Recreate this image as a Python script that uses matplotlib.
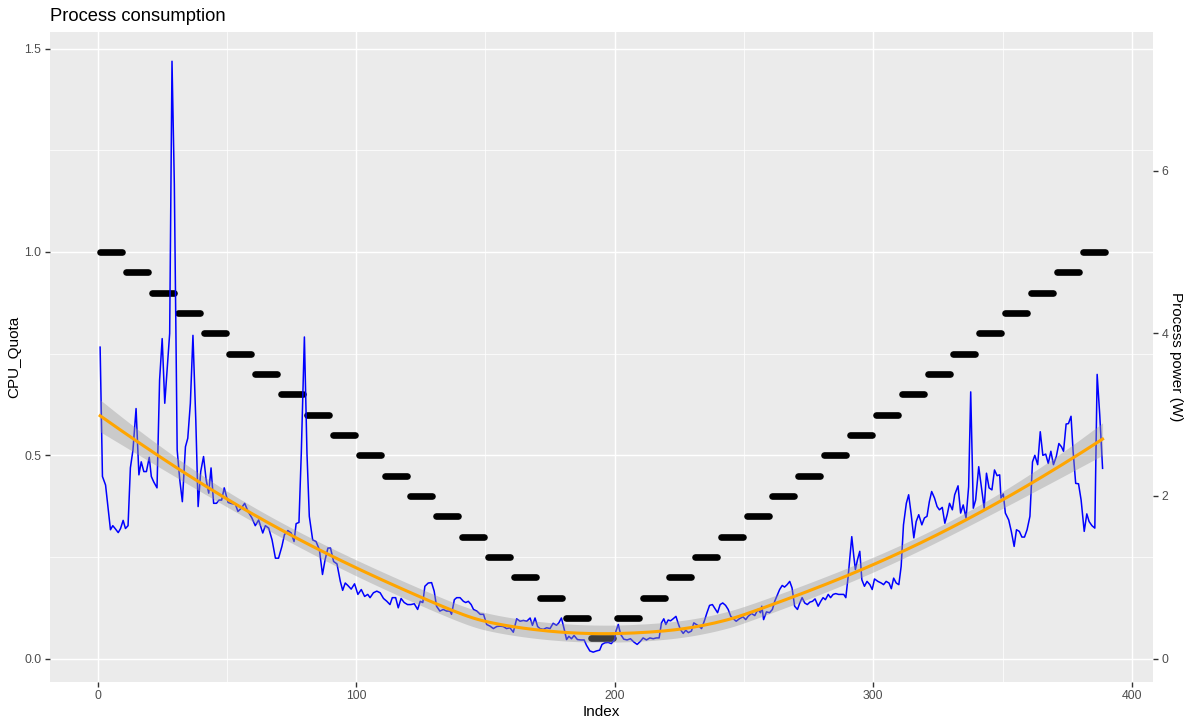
import numpy as np
import matplotlib
matplotlib.use("Agg")
import matplotlib.pyplot as plt
from matplotlib.ticker import MultipleLocator, FormatStrFormatter

plt.rcParams['font.family'] = ['Liberation Sans', 'DejaVu Sans']

# CPU quota steps, each level held for 10 samples
quota_levels = [1.0, 0.95, 0.9, 0.85, 0.8, 0.75, 0.7, 0.65, 0.6, 0.55,
                0.5, 0.45, 0.4, 0.35, 0.3, 0.25, 0.2, 0.15, 0.1, 0.05,
                0.1, 0.15, 0.2, 0.25, 0.3, 0.35, 0.4, 0.45, 0.5, 0.55,
                0.6, 0.65, 0.7, 0.75, 0.8, 0.85, 0.9, 0.95, 1.0]
step_len = 10

# process power, shown on the CPU_Quota scale (W / 5)
power_idx = [
    1, 1.9, 3.1, 4, 5, 5.9, 6.8, 8, 8.9, 9.9, 10.8, 11.8, 12.7, 13.7, 14.9, 16, 16.9, 17.9, 18.9, 20,
    20.8, 21.7, 23, 24, 25, 26, 26.9, 27.9, 28.8, 29.7, 30.8, 31.8, 32.8, 34, 34.9, 35.9, 36.9, 38,
    38.9, 39.9, 41, 42, 43, 43.9, 44.9, 46, 47, 48, 49,
    50.5, 52, 53.3, 54.3, 55.6, 56.9, 58.2, 59.7, 61, 62.3, 63.9, 64.9, 66.2, 67.5, 68.8, 70, 71.3,
    72.3, 73.6, 74.9, 76, 76.8, 77.9, 78.8, 80, 81, 81.9, 83.2, 84.5, 85.8, 87, 88, 89.1, 90.1, 91.3,
    92.6, 93.9, 94.8, 95.8, 96.8, 98.1, 99.4,
    100.7, 102, 103.3, 104.5, 105.4, 106.7, 108, 109.3, 110.6, 111.9, 113.1, 114, 115.3, 116.3, 117.4,
    118.6, 119.9, 121.2, 122.5, 123.8, 124.8, 125.8, 126.6, 127.9, 129.2, 130.2, 131.1, 132.4, 133.7,
    135, 136.3, 136.9, 138, 138.9, 140.2, 141.5, 142.4, 143.4, 144.5, 145.4, 146.7, 148, 149.3,
    150.5, 151.8, 153.1, 154.4, 155.7, 156.9, 158.2, 159.5, 160.8, 162.1, 163.4, 164.7, 166, 167.3,
    168.2, 169.2, 170.2, 171.1, 172.4, 173.7, 175, 176.2, 177.5, 178.4, 179.4, 180.5, 181.4, 182.3,
    183.3, 184.3, 185.6, 186.9, 188.2, 189.1, 190.4, 191.7, 193, 194.2, 195.1, 196.2, 197.5, 198.7, 200,
    200.5, 201.4, 202.3, 203.5, 204.8, 206.1, 207.4, 208.7, 210, 211, 212.3, 213.6, 214.9, 216.1,
    217.2, 218.1, 219, 219.8, 220.7, 221.6, 222.6, 223.7, 224.5, 225.4, 226.5, 227.5, 228.5, 229.7,
    230.6, 231.6, 232.6, 233.6, 234.7, 235.7, 236.7, 237.8, 238.8, 239.8, 240.8, 241.8, 242.9, 243.9,
    244.9, 245.9, 247, 248.2,
    249.6, 250.7, 251.6, 252.9, 254.2, 255.4, 256.4, 256.9, 257.6, 258.7, 259.9, 261, 261.9, 262.8,
    263.8, 264.8, 265.7, 266.7, 267.7, 268.6, 269.6, 270.7, 271.6, 272.5, 273.5, 274.5, 275.5, 276.5,
    277.5, 278.7, 279.7, 280.6, 281.5, 282.6, 283.5, 284.5, 285.5, 286.6, 287.6, 288.6, 289.4, 290.3,
    291, 291.7, 292.5, 293.1, 293.9, 294.8, 295.6, 296.6, 297.6, 298.7,
    299.6, 300.5, 301.8, 303.1, 304, 305, 306.1, 307, 307.9, 308.9, 309.9, 310.8, 311.7, 312.8, 313.7,
    314.7, 315.7, 316.6, 317.6, 318.8, 319.8, 320.8, 321.7, 322.6, 323.7, 324.7, 325.6, 326.7, 327.7,
    328.6, 329.5, 330.6, 331.5, 332.8, 333.8, 334.8, 335.9, 336.9, 337.7, 338.7, 339.6, 340.8, 341.8,
    342.9, 343.8, 344.8, 345.9, 346.9, 347.9, 348.9,
    349.4, 350.3, 351.1, 352.4, 353.4, 354.5, 355.4, 356.5, 357.5, 358.5, 359.5, 360.6, 361.6, 362.5,
    363.6, 364.6, 365.6, 366.7, 367.7, 368.7, 369.7, 370.8, 371.8, 372.8, 373.6, 374.6, 375.5, 376.5,
    377.3, 378.3, 379.4, 380.4, 381.6, 382.6, 383.5, 384.6, 385.7, 386.6, 387.6, 388.7]
power_scaled = [
    0.766, 0.448, 0.427, 0.374, 0.317, 0.327, 0.32, 0.31, 0.32, 0.34, 0.32, 0.327, 0.469, 0.513, 0.615,
    0.452, 0.484, 0.46, 0.46, 0.495, 0.448, 0.435, 0.42, 0.685, 0.787, 0.628, 0.709, 0.8, 1.469, 1.167,
    0.513, 0.44, 0.386, 0.521, 0.542, 0.628, 0.795, 0.587, 0.374, 0.46, 0.497, 0.44, 0.407, 0.469,
    0.382, 0.382, 0.39, 0.39, 0.42,
    0.384, 0.381, 0.38, 0.362, 0.37, 0.382, 0.362, 0.346, 0.327, 0.341, 0.309, 0.327, 0.321, 0.292,
    0.247, 0.247, 0.276, 0.305, 0.315, 0.309, 0.288, 0.332, 0.335, 0.505, 0.791, 0.505, 0.35, 0.292,
    0.288, 0.268, 0.207, 0.243, 0.272, 0.272, 0.239, 0.233, 0.19, 0.168, 0.186, 0.18, 0.171, 0.184,
    0.158, 0.17, 0.153, 0.158, 0.15, 0.162, 0.166, 0.162, 0.148, 0.141, 0.133, 0.15, 0.15, 0.125,
    0.148, 0.138, 0.133, 0.133, 0.135, 0.121, 0.141, 0.138, 0.178, 0.186, 0.187, 0.166, 0.129, 0.117,
    0.121, 0.117, 0.117, 0.109, 0.145, 0.15, 0.15, 0.141, 0.138, 0.141, 0.133, 0.121, 0.117, 0.109,
    0.109,
    0.084, 0.08, 0.074, 0.079, 0.08, 0.079, 0.074, 0.076, 0.065, 0.098, 0.092, 0.094, 0.092, 0.1,
    0.082, 0.1, 0.079, 0.074, 0.072, 0.076, 0.074, 0.087, 0.082, 0.088, 0.1, 0.072, 0.047, 0.055,
    0.049, 0.057, 0.047, 0.046, 0.046, 0.033, 0.019, 0.016, 0.019, 0.021, 0.035, 0.039, 0.04, 0.037,
    0.047,
    0.068, 0.084, 0.06, 0.048, 0.046, 0.049, 0.041, 0.035, 0.043, 0.051, 0.046, 0.051, 0.049, 0.051,
    0.051, 0.088, 0.098, 0.084, 0.095, 0.093, 0.098, 0.104, 0.088, 0.072, 0.062, 0.07, 0.064, 0.068,
    0.088, 0.084, 0.08, 0.074, 0.093, 0.113, 0.131, 0.133, 0.123, 0.113, 0.133, 0.137, 0.131, 0.121,
    0.104, 0.098, 0.092, 0.098,
    0.103, 0.096, 0.104, 0.111, 0.106, 0.121, 0.113, 0.129, 0.096, 0.115, 0.113, 0.121, 0.141, 0.155,
    0.17, 0.18, 0.176, 0.182, 0.19, 0.174, 0.129, 0.121, 0.137, 0.15, 0.137, 0.133, 0.139, 0.141,
    0.147, 0.129, 0.141, 0.15, 0.145, 0.158, 0.15, 0.158, 0.16, 0.158, 0.158, 0.158, 0.15, 0.202,
    0.251, 0.3, 0.251, 0.219, 0.243, 0.264, 0.194, 0.178, 0.19, 0.182,
    0.17, 0.196, 0.19, 0.186, 0.182, 0.19, 0.186, 0.172, 0.198, 0.186, 0.182, 0.227, 0.329, 0.382,
    0.403, 0.354, 0.297, 0.337, 0.354, 0.329, 0.346, 0.35, 0.386, 0.411, 0.395, 0.374, 0.366, 0.372,
    0.333, 0.354, 0.382, 0.366, 0.403, 0.425, 0.358, 0.378, 0.346, 0.423, 0.656, 0.37, 0.39, 0.472,
    0.423, 0.37, 0.456, 0.42, 0.415, 0.464, 0.45, 0.452,
    0.395, 0.405, 0.358, 0.341, 0.313, 0.276, 0.317, 0.313, 0.299, 0.299, 0.317, 0.35, 0.484, 0.5,
    0.477, 0.558, 0.5, 0.503, 0.48, 0.51, 0.477, 0.497, 0.529, 0.521, 0.51, 0.577, 0.578, 0.596,
    0.51, 0.431, 0.43, 0.39, 0.313, 0.356, 0.337, 0.327, 0.321, 0.699, 0.6, 0.468]
power_factor = 0.2  # W -> quota scale used for the secondary axis
power_ticks = [0, 2, 4, 6]


def loess_weights(x, x0, span=0.75):
    # local quadratic fit weights (tricube), returns the row of the smoother matrix
    n = len(x)
    q = int(np.floor(n * span))
    d = np.abs(x - x0)
    h = np.sort(d)[q - 1]
    w = np.clip(1 - (d / h) ** 3, 0, None) ** 3
    X = np.vstack([np.ones_like(x), x - x0, (x - x0) ** 2]).T
    XtW = X.T * w
    return np.linalg.solve(XtW @ X, XtW)[0]


x = np.array(power_idx)
y = np.array(power_scaled)

S = np.array([loess_weights(x, xi) for xi in x])
res = y - S @ y
dof = len(x) - 2 * np.trace(S) + np.trace(S.T @ S)
sigma = np.sqrt(np.sum(res ** 2) / dof)

xs = np.linspace(x.min(), x.max(), 200)
L = np.array([loess_weights(x, xi) for xi in xs])
fit = L @ y
se = sigma * np.sqrt(np.sum(L ** 2, axis=1))

fig = plt.figure(figsize=(11.93, 7.27), dpi=100)
ax = fig.add_axes([50/1193, 45.3/727, 1102.7/1193, 650/727])
ax.set_facecolor('#EBEBEB')
for s in ax.spines.values():
    s.set_visible(False)

ax.xaxis.set_major_locator(MultipleLocator(100))
ax.xaxis.set_minor_locator(MultipleLocator(50))
ax.yaxis.set_major_locator(MultipleLocator(0.5))
ax.yaxis.set_minor_locator(MultipleLocator(0.25))
ax.grid(which='major', color='white', lw=1.07)
ax.grid(which='minor', color='white', lw=0.53)
ax.set_axisbelow(True)

for k, lvl in enumerate(quota_levels):
    ax.plot([k*step_len + 1, k*step_len + step_len - 0.5], [lvl, lvl], color='black',
            lw=4.8, solid_capstyle='round', zorder=2)

ax.plot(x, y, color='blue', lw=1.1, zorder=3)
ax.fill_between(xs, fit - 1.96*se, fit + 1.96*se, color='#999999', alpha=0.4, lw=0, zorder=4)
ax.plot(xs, fit, color='orange', lw=2.2, zorder=5)

pad_x = 0.05 * (x.max() - x.min())
ax.set_xlim(x.min() - pad_x, x.max() + pad_x)
pad_y = 0.05 * (y.max() - y.min())
ax.set_ylim(y.min() - pad_y, y.max() + pad_y)
ax.yaxis.set_major_formatter(FormatStrFormatter('%.1f'))

ax.tick_params(which='major', length=3.8, width=1.0, color='#333333',
               labelcolor='#4D4D4D', labelsize=8.8, pad=2.5)
ax.tick_params(which='minor', length=0)

sec = ax.secondary_yaxis('right', functions=(lambda q: q / power_factor,
                                             lambda w: w * power_factor))
sec.set_yticks(power_ticks)
sec.spines['right'].set_visible(False)
sec.tick_params(length=3.8, width=1.0, color='#333333',
                labelcolor='#4D4D4D', labelsize=8.8, pad=2.5)

fig.text(50/1193, 1 - 21/727, 'Process consumption', fontsize=13.2, va='baseline', ha='left')
fig.text(601/1193, 11/727, 'Index', fontsize=11, ha='center', va='baseline')
fig.text(14/1193, 1 - 356.7/727, 'CPU_Quota', fontsize=11, rotation=90, ha='center', va='center')
fig.text(1176/1193, 1 - 356.7/727, 'Process power (W)', fontsize=11, rotation=-90,
         ha='center', va='center')

fig.savefig('out.png', dpi=100)
